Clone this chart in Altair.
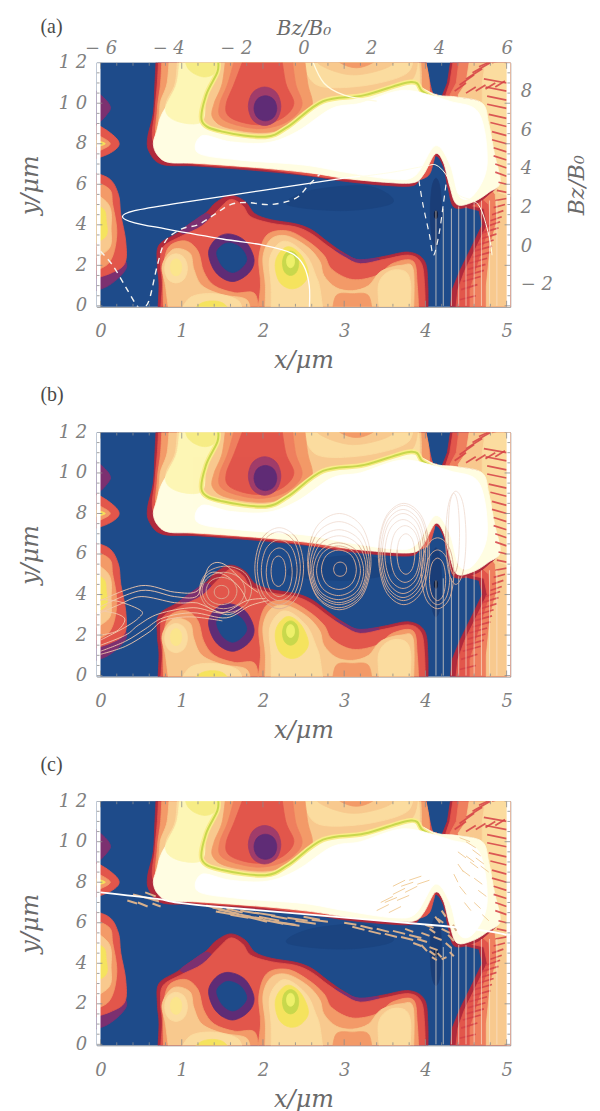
import altair as alt
import pandas as pd

NAVY="#1e4b8a"; DNAVY="#1b4480"; PUR="#5f2c76"; DRED="#b02a3c"; RED="#e2564b"; SAL="#ef7f5e"; ORG="#f39a68"
PEACH="#f8c98e"; LIGHT="#fbdc9f"; YEL="#f5e35e"; GRN="#c8d84c"; PALE="#fffde2"; WHITE="#ffffff"
INK="#808080"; CONT="#dcae96"

XD=[-0.047,5.045]; YD=[-0.05,12.0]
W=415; H=245

def ell(cx,cy,rx,ry):
    k=.72
    return [(cx-rx,cy),(cx-k*rx,cy+k*ry),(cx,cy+ry),(cx+k*rx,cy+k*ry),(cx+rx,cy),(cx+k*rx,cy-k*ry),(cx,cy-ry),(cx-k*rx,cy-k*ry)]

# filled regions, painter's order: (colour, style, points); style 0 straight, 1 smooth with ends off the frame, 2 smooth closed
regions=[
 (NAVY,0,[(-.1,-.3),(5.2,-.3),(5.2,12.3),(-.1,12.3)]),
 (DNAVY,2,[(2.3,5.0),(3,4.7),(3.6,5.1),(3.3,5.9),(2.6,5.7)]),
 # right-hand zone
 (DRED,0,[(4.2,10.3),(4.27,11),(4.32,12.3),(5.2,12.3),(5.2,-.3),(4.3,-.3),(4.33,.8),(4.42,1.7),(4.58,3),(4.7,4),(4.66,4.7),(4.4,4.95),(4.3,6)]),
 (RED,0,[(4.25,10.4),(4.3,11),(4.35,12.3),(5.2,12.3),(5.2,-.3),(4.37,-.3),(4.4,.8),(4.48,1.7),(4.64,3),(4.76,4),(4.72,4.8),(4.4,5.1),(4.35,6)]),
 (SAL,0,[(4.3,10.4),(4.38,11),(4.42,12.3),(5.2,12.3),(5.2,-.3),(4.55,-.3),(4.55,.8),(4.62,1.7),(4.72,3),(4.8,4),(4.78,5),(4.5,6)]),
 (PEACH,0,[(4.4,10.4),(4.5,11),(4.55,12.3),(5.2,12.3),(5.2,-.3),(4.75,-.3),(4.75,1),(4.8,3),(4.88,4.2),(4.86,5.5),(4.6,7)]),
 (LIGHT,0,[(4.7,10),(4.7,11),(4.75,12.3),(5.2,12.3),(5.2,5.2),(4.9,5.6),(4.8,8)]),
 # upper structure
 (DRED,1,[(.69,12.6),(.67,11),(.65,9.5),(.58,8.3),(.6,7.6),(.76,6.98),(1.2,6.9),(2,6.65),(2.6,6.4),(3,6.15),(3.5,5.95),(3.84,5.93),(3.95,6.35),(4.06,6.95),(4.13,7.4),(4.22,6.9),(4.28,5.8),(4.36,4.85),(4.6,5),(4.78,5.5),(4.9,6.1),(4.83,7.5),(4.76,9),(4.68,10),(4.4,10.25),(4.17,10.15),(4.07,10.5),(4.03,11),(4.0,12.6)]),
 (RED,1,[(.72,12.6),(.7,11),(.67,9.6),(.66,8),(1,7.1),(2,6.75),(3,6.25),(3.9,6.2),(4.1,7.1),(4.13,9),(4.15,10.35),(4.08,10.6),(3.98,12.6)]),
 (ORG,1,[(.76,12.6),(.74,11),(.7,9.7),(.7,8),(1,7.2),(2,7),(3,7),(3.9,7),(4.05,10.6),(3.96,12.6)]),
 (PEACH,1,[(.85,12.6),(.82,11),(.73,9.8),(.8,8),(1.5,7.5),(3.9,7.5),(3.95,11),(3.93,12.6)]),
 (LIGHT,1,[(.95,12.6),(.92,11),(.8,9.8),(.9,8),(1.5,7.6),(3.9,7.6),(3.93,11),(3.9,12.6)]),
 (PEACH,1,[(1.44,12.6),(1.44,11.4),(1.3,10.4),(1.25,9.1),(1.5,8.6),(2.03,8.3),(2.31,8.85),(2.74,10.1),(3.25,10.4),(3.82,11.1),(3.9,12.6)]),
 (LIGHT,1,[(2.5,12.6),(2.55,11.4),(2.75,10.8),(3.3,10.9),(3.78,11.5),(3.85,12.6)]),
 (PEACH,1,[(2.62,12.6),(2.7,11.9),(3.1,11.4),(3.55,11.8),(3.7,12.6)]),
 (ORG,1,[(2.8,12.6),(2.95,12),(3.15,11.75),(3.35,12),(3.5,12.6)]),
 (ORG,1,[(1.55,12.6),(1.5,11),(1.4,10),(1.38,9.3),(1.55,8.8),(2.0,8.55),(2.35,8.9),(2.6,9.8),(2.55,11),(2.5,12.6)]),
 (SAL,1,[(1.68,12.6),(1.57,11),(1.47,10),(1.48,9.3),(1.7,8.9),(2.0,8.75),(2.3,9.1),(2.48,9.9),(2.4,11),(2.35,12.6)]),
 (RED,1,[(1.8,12.6),(1.65,11),(1.55,10),(1.57,9.4),(1.75,9.05),(2.0,8.95),(2.25,9.3),(2.38,10),(2.28,11),(2.22,12.6)]),
 ("#a03c6a",2,ell(2.02,9.85,.2,.95)),
 (PUR,2,ell(2.03,9.75,.14,.62)),
 # bright band
 (PALE,1,[(1.0,12.6),(.98,11),(.76,9.5),(.69,8.6),(.65,8),(.7,7.45),(.84,7.08),(1.2,7.03),(2,6.8),(2.6,6.55),(3,6.3),(3.5,6.1),(3.85,6.08),(3.98,6.5),(4.12,7.5),(4.22,7.1),(4.3,5.9),(4.39,5.0),(4.6,5.15),(4.78,5.6),(4.92,6.1),(4.85,7.5),(4.78,9),(4.7,10),(4.4,10.3),(4.15,10.4),(3.96,10.75),(3.82,11.05),(3.25,10.4),(2.74,10.1),(2.31,8.85),(2.03,8.35),(1.5,8.6),(1.25,9.1),(1.3,10.4),(1.44,11.55),(1.44,12.6)]),
 ("#fdf6b5",1,[(.98,12.6),(.94,11),(.8,9.7),(.95,9.1),(1.25,9.1),(1.3,10.4),(1.44,11.55),(1.44,12.6)]),
 ("#f6ec85",1,[(1.02,12.6),(1.08,11.7),(1.27,11.3),(1.43,11.6),(1.45,12.6)]),
 # lower structure
 (DRED,1,[(.7,-.6),(.72,1),(.7,2),(.72,3),(.95,3.6),(1.1,4.05),(1.3,4.6),(1.42,5.1),(1.6,5.45),(1.78,5.15),(1.9,4.55),(2.1,4.25),(2.4,4.05),(2.6,3.75),(2.8,3.15),(3.0,2.6),(3.2,2.25),(3.5,2.45),(3.8,2.65),(3.99,2.2),(4.03,1),(4.03,-.6)]),
 ("#7c3070",2,[(.98,3.65),(1.12,4.1),(1.3,4.55),(1.4,4.2),(1.35,3.7),(1.15,3.5)]),
 ("#7c3070",2,[(2.9,2.75),(3.15,2.3),(3.4,2.35),(3.4,2.2),(3.1,2.1),(2.9,2.5)]),
 (RED,1,[(.73,-.6),(.76,1),(.74,2),(.77,2.9),(1,3.45),(1.25,3.95),(1.45,4.75),(1.6,5.25),(1.75,4.95),(1.85,4.4),(2.1,4.08),(2.4,3.9),(2.6,3.55),(2.8,2.95),(3,2.42),(3.2,2.08),(3.5,2.3),(3.8,2.5),(3.95,2.1),(3.99,1),(4,-.6)]),
 (ORG,1,[(.78,-.6),(.77,1),(.78,2.1),(.85,2.95),(1.05,3.2),(1.2,2.7),(1.27,1.7),(1.4,1),(1.65,.65),(1.9,.6),(1.95,-.6)]),
 (PEACH,1,[(.85,-.6),(.8,1),(.76,2),(.9,2.8),(1.1,2.6),(1.15,1.8),(1.25,1),(1.5,.55),(1.8,.3),(1.85,-.6)]),
 (LIGHT,2,ell(.93,1.85,.14,.72)),
 ("#fbe58c",2,ell(.93,1.9,.07,.42)),
 (LIGHT,1,[(.95,-.6),(1.1,.4),(1.4,.6),(1.7,.25),(1.75,-.6)]),
 (YEL,1,[(1.05,-.6),(1.25,.15),(1.5,.15),(1.65,-.6)]),
 (PUR,2,[(1.33,2.6),(1.42,3.3),(1.58,3.55),(1.78,3.2),(1.89,2.3),(1.82,1.6),(1.62,1.2),(1.42,1.65)]),
 (NAVY,2,[(1.43,2.6),(1.5,3.0),(1.6,3.1),(1.73,2.85),(1.8,2.3),(1.73,1.85),(1.62,1.65),(1.5,1.95)]),
 (ORG,1,[(1.92,-.6),(1.97,1),(1.95,2.4),(2.05,3.5),(2.3,3.7),(2.55,3.2),(2.75,2.5),(2.85,1.8),(3.1,1.3),(3.4,1.5),(3.6,2.1),(3.85,2.2),(3.9,1),(3.92,-.6)]),
 (PEACH,1,[(2.02,-.6),(2.03,1),(2,2.4),(2.1,3.3),(2.3,3.45),(2.55,2.9),(2.7,2.2),(2.75,1.5),(2.9,.9),(3.1,.75),(3.3,1),(3.45,1.7),(3.7,2),(3.85,1.8),(3.85,-.6)]),
 (LIGHT,1,[(2.1,-.6),(2.1,1),(2.08,2.3),(2.2,3.1),(2.35,3.1),(2.55,2.4),(2.65,1.5),(2.7,.9),(2.75,-.6)]),
 (LIGHT,1,[(3.45,-.6),(3.42,1),(3.55,1.7),(3.75,1.7),(3.82,1),(3.8,-.6)]),
 (ORG,1,[(2.85,-.6),(2.9,.5),(3.1,.6),(3.3,.5),(3.35,-.6)]),
 (YEL,2,[(2.15,2.0),(2.2,2.6),(2.32,2.92),(2.47,2.5),(2.56,1.6),(2.47,1.0),(2.33,.85),(2.2,1.2)]),
 (GRN,2,ell(2.34,2.1,.1,.6)),
 ("#eef06a",2,ell(2.34,2.2,.05,.32)),
 # left strip
 ("#7c3070",1,[(-.2,.6),(.1,1),(.32,1.9),(.2,2.6),(-.2,3)]),
 (RED,1,[(-.2,1.2),(.12,1.6),(.3,2.1),(.31,3.2),(.25,4.5),(.22,5.5),(.1,6.3),(-.2,6.7)]),
 (ORG,1,[(-.2,1.6),(.1,2.1),(.2,3.5),(.15,5),(.1,5.8),(-.2,6.3)]),
 (PEACH,1,[(-.2,2.1),(.1,2.8),(.13,3.8),(.1,5),(-.2,5.9)]),
 (YEL,1,[(-.2,2.9),(.06,3.4),(.07,4.2),(.03,4.8),(-.2,5.2)]),
 ("#7c3070",1,[(-.2,8.4),(.07,9.4),(.1,10),(-.2,11.1)]),
 (RED,1,[(-.2,7.1),(.1,7.5),(.23,8),(.1,8.6),(-.2,9.3)]),
 (ORG,1,[(-.2,7.4),(.12,8),(-.2,8.7)]),
 (YEL,1,[(-.2,7.75),(.06,8),(-.2,8.3)]),
 # navy spike core
 ("#1a3d77",2,ell(4.13,4.6,.07,1.7)),
 ("#0d1a3a",2,ell(4.13,4.5,.02,.2)),
]
# bright core, drawn after the green contour
core=[(1.2,7.55),(1.7,7.2),(2.5,6.95),(3,6.6),(3.6,6.25),(3.88,6.45),(4.12,7.9),(4.3,7),(4.42,5.4),(4.6,5.5),(4.76,7),(4.66,9.5),(4.3,10.1),(3.85,10.6),(3.6,10.55),(3.2,10.0),(2.85,9.75),(2.42,8.6),(2.05,8.05),(1.6,8.1),(1.25,8.4)]
green_x=[1.44,1.44,1.3,1.25,1.5,2.03,2.31,2.74,3.25,3.82,3.96,4.1]
green_y=[12.2,11.55,10.4,9.1,8.6,8.35,8.85,10.1,10.4,11.05,10.6,10.25]

vline_x=[4.13,4.22,4.32,4.41,4.5,4.6,4.69,4.79,4.88]
vline_top=[4.7,4.8,4.8,4.9,4.9,5.2,5.2,5.2,5.2]

# ripple strokes on the right-hand edge
sx0=[4.36,4.42,4.5,4.58,4.66,4.74,4.82,4.5,4.62,4.74,4.86,
     4.72,4.74,4.76,4.76,4.78,4.8,4.82,4.82,4.84,4.84,4.86,4.86,
     4.9,4.88,4.86,4.84,4.82,4.8,4.74,4.7,4.68,4.64,4.6,4.58,4.54,4.52,4.5,4.46,4.44,4.42]
sy0=[10.6,10.9,11.2,11.5,11.8,12.0,12.0,10.5,10.6,10.7,10.8,
     11.2,10.8,10.35,9.95,9.45,9.05,8.6,8.2,7.8,7.4,7.0,6.6,
     6.1,5.7,5.2,4.85,4.5,4.2,3.9,3.6,3.3,3.0,2.7,2.4,2.1,1.8,1.5,1.2,.8,.3]
sx1=[4.5,4.6,4.7,4.8,4.88,4.95,5.0,4.62,4.74,4.86,4.98,
     5.0,5.0,5.0,5.0,5.0,5.0,5.0,5.0,5.0,5.0,5.0,5.0,
     5.0,5.0,5.0,4.98,4.96,4.94,4.92,4.9,4.88,4.84,4.82,4.8,4.76,4.74,4.72,4.68,4.64,4.62]
sy1=[11.0,11.4,11.7,12.0,12.2,12.2,12.2,10.8,10.9,11.0,11.1,
     11.0,10.6,10.15,9.75,9.25,8.85,8.4,8.0,7.6,7.2,6.8,6.4,
     6.0,5.6,5.3,5.0,4.7,4.4,4.15,3.85,3.55,3.25,2.95,2.65,2.35,2.05,1.75,1.45,1.05,.5]

# panel (a) curves
solid_x=[2.57,2.57,2.5,2.35,2,1.5,.8,.42,.27,.42,1,2,3,3.2]
solid_y=[-.2,1,2,2.6,3,3.3,3.8,4.1,4.4,4.7,5.1,5.7,6.3,6.38]
solid2_x=[2.6,2.75,3.0,3.4]
solid2_y=[12.2,11,10.4,10.1]
solid3_x=[3.2,3.6,4.0,4.13,4.25,4.4,4.65,4.78,4.82]
solid3_y=[6.38,6.6,6.9,6.95,6.5,5.5,5,3.5,2.5]
dash_x=[0,.15,.3,.45,.52,.6,.7,.8,1.0,1.2,1.4,1.6,1.8,2.1,2.4,2.55,2.7]
dash_y=[2.7,2,1,0,-.1,.3,2,3.2,3.8,4,4.5,5,5.1,5,5.3,5.9,6.5]
lens_x=[3.92,3.97,4.05,4.1,4.17,4.22,4.26]
lens_y=[6.2,5,3.5,2.5,3.6,5,6.2]

# panel (b) closed contours: (x left, x right, y low, y high)
rings=[
 (1.40,1.58,3.8,4.45),(1.3,1.68,3.5,4.85),(1.25,1.78,3.3,5.1),(1.22,1.86,3.1,5.4),
 (2.1,2.28,4.4,5.9),(2.04,2.36,3.9,6.3),(1.98,2.42,3.7,6.7),(1.93,2.46,3.5,7.1),(1.9,2.5,3.3,7.3),
 (2.87,3.03,4.9,5.6),(2.72,3.15,4.25,6.2),(2.66,3.2,3.95,6.4),(2.62,3.24,3.75,6.55),(2.6,3.27,3.6,6.9),
 (2.58,3.29,3.5,7.2),(2.56,3.31,3.35,7.6),(2.55,3.33,3.25,8.0),
 (3.65,3.87,5,7.0),(3.57,3.93,4.6,7.4),(3.5,3.95,4.3,7.7),(3.47,3.98,4.05,8.0),(3.45,4.0,3.85,8.2),(3.43,4.03,3.7,8.4),(3.42,4.05,3.5,8.5),
 (3.95,4.35,3.3,6.8),(4.0,4.3,3.5,6.2),(4.05,4.25,3.7,5.8),
 (4.25,4.5,4.5,9.1),(4.28,4.42,5,9.0),
]
flow=[
 [(0,3.7),(.5,4.44),(.91,4.12),(1.2,4.2),(1.34,5.4),(1.52,5.5),(1.77,4.6),(1.94,4.1)],
 [(0,3.4),(.5,4.2),(.91,3.9),(1.18,3.9),(1.26,4.7),(1.38,5.1),(1.56,4.9),(1.72,4.3),(1.8,3.7)],
 [(0,3.1),(.23,3.5),(.5,3.9),(.91,3.6),(1.15,3.6),(1.25,3.5),(1.56,3.0),(1.75,3.4)],
 [(0,2.0),(.2,2.2),(.3,2.75),(.2,3.05),(0,3.2)],
 [(.0,3.75),(.23,3.65),(.5,3.2),(.47,2.85),(.31,2.4),(0,1.75)],
 [(0,1.5),(.31,2),(.47,2.5),(.72,3.05),(1.14,3.35),(1.5,3.1),(1.8,3.7),(2.03,3.8)],
 [(0,1.2),(.31,1.7),(.55,2.3),(.77,2.85),(1.14,3.1),(1.55,2.85),(1.84,3.45),(2.07,3.7)],
 [(0,1.05),(.31,1.45),(.6,2.15),(.77,2.7),(1.1,2.9),(1.5,2.7)],
]

# panel (c) interface and filament streaks
iface_x=[0,.7,1.27,4.22,5]
iface_y=[7.5,7.18,6.85,5.84,5.4]
cx0=[.33,.4,.46,.55,.6,.64,1.3,1.38,1.45,1.55,1.6,1.72,1.8,1.9,2.0,2.1,2.2,2.3,2.4,2.5,2.6,1.42,1.6,1.75,1.95,2.15,
     3.0,3.1,3.2,3.3,3.4,3.5,3.6,3.7,3.8,3.9,3.75,3.85,3.95,4.0,4.05,4.1,4.15,4.2,3.95,4.05,4.15,4.25,4.05,4.12,4.2,4.28,4.08,4.2,4.3,4.34]
cy0=[7.1,7.4,7.0,7.5,7.2,6.95,6.85,6.75,6.65,6.7,6.5,6.6,6.3,6.5,6.15,6.35,6.0,6.25,6.1,6.3,6.15,6.55,6.4,6.35,6.3,6.05,
     6.0,5.8,5.85,5.6,5.7,5.45,5.6,5.3,5.4,5.2,5.7,5.0,5.5,5.9,4.8,5.3,6.2,5.7,4.9,4.6,4.5,5.0,5.7,6.3,6.6,5.4,4.3,4.2,4.55,5.9]
cx1=[.45,.6,.58,.68,.72,.74,1.5,1.6,1.7,1.75,1.85,1.95,2.05,2.15,2.25,2.3,2.45,2.55,2.65,2.7,2.8,1.65,1.82,2.0,2.2,2.4,
     3.15,3.25,3.35,3.45,3.55,3.65,3.75,3.85,3.95,4.02,3.85,3.95,4.05,4.1,4.15,4.2,4.22,4.3,4.02,4.12,4.2,4.32,4.12,4.18,4.25,4.35,4.14,4.26,4.35,4.38]
cy1=[6.95,7.2,6.8,7.3,7.05,6.8,6.65,6.55,6.45,6.5,6.3,6.45,6.05,6.35,5.95,6.2,5.85,6.1,5.95,6.15,6.05,6.4,6.25,6.2,6.1,5.9,
     5.9,5.65,5.7,5.45,5.55,5.3,5.45,5.15,5.25,5.05,5.55,4.85,5.35,5.75,4.65,5.15,6.0,5.5,4.6,4.4,4.3,4.75,5.5,6.0,6.3,5.1,4.15,4.3,4.35,5.6]
fx0=[3.4,3.5,3.6,3.7,3.8,3.55,3.65,3.75,3.9,3.45,3.6,4.42,4.5,4.58,4.62,4.68,4.45,4.55,4.6,4.65,4.4,4.5,4.42,4.48,4.35,4.4,4.6,4.7]
fy0=[6.6,7.0,7.4,7.8,8.1,6.5,7.1,7.5,7.9,7.0,7.8,10.2,10,9.6,9.2,8.8,8.6,9.0,8.2,7.6,9.5,9.3,7.8,7.0,8.4,8.9,7.0,6.4]
fx1=[3.55,3.65,3.75,3.85,3.95,3.7,3.8,3.9,4.05,3.6,3.75,4.55,4.62,4.68,4.72,4.78,4.55,4.65,4.7,4.75,4.5,4.6,4.5,4.56,4.4,4.47,4.68,4.78]
fy1=[6.9,7.25,7.7,8.0,8.3,6.8,7.35,7.8,8.1,7.3,8.1,10.0,9.7,9.3,8.9,8.5,8.3,8.7,7.9,7.3,9.2,9.0,7.4,6.6,8.0,8.5,6.7,6.1]

major_x=[0,1,2,3,4,5]
minor_x=[.2,.4,.6,.8,1.2,1.4,1.6,1.8,2.2,2.4,2.6,2.8,3.2,3.4,3.6,3.8,4.2,4.4,4.6,4.8]
major_y=[0,2,4,6,8,10,12]
minor_y=[.5,1,1.5,2.5,3,3.5,4.5,5,5.5,6.5,7,7.5,8.5,9,9.5,10.5,11,11.5]
# secondary Bz/B0 axes of panel (a): positions on the x and y scales and their labels
top_pos=[0,.8333,1.6667,2.5,3.3333,4.1667,5]
top_lab=["− 6","− 4","− 2","0","2","4","6"]
right_pos=[1.03,2.94,4.85,6.76,8.67,10.58]
right_lab=["− 2","0","2","4","6","8"]

sx=alt.Scale(domain=XD,nice=False,zero=False)
sy=alt.Scale(domain=YD,nice=False,zero=False)
FONT="Liberation Serif"; AF="DejaVu Serif"

def xq(f="x"): return alt.X(f"{f}:Q",scale=sx,axis=None)
def yq(f="y"): return alt.Y(f"{f}:Q",scale=sy,axis=None)

INTERP={0:"linear",1:"cardinal",2:"cardinal-closed"}
def area(c,style,pts,op=1):
    df=pd.DataFrame({"x":[p[0] for p in pts],"y":[p[1] for p in pts],"i":range(len(pts))})
    return alt.Chart(df).mark_line(fill=c,stroke=c,strokeWidth=.8,clip=True,opacity=op,
        interpolate=INTERP[style]).encode(x=xq(),y=yq(),order="i:Q")

def curve(xs,ys,c=WHITE,w=1.3,dash=None,closed=False):
    df=pd.DataFrame({"x":xs,"y":ys,"i":range(len(xs))})
    kw=dict(stroke=c,strokeWidth=w,clip=True,interpolate="cardinal-closed" if closed else "cardinal")
    if dash: kw["strokeDash"]=dash
    return alt.Chart(df).mark_line(**kw).encode(x=xq(),y=yq(),order="i:Q")

def segs(a,b,c,d,col,w,op=1):
    df=pd.DataFrame({"x":a,"y":b,"x2":c,"y2":d})
    return alt.Chart(df).mark_rule(stroke=col,strokeWidth=w,opacity=op,clip=True).encode(
        x=xq(),y=yq(),x2="x2:Q",y2="y2:Q")

def ticks():
    out=[]
    GR="#8c8c8c"
    for vals,ly in ((major_x,.3),(minor_x,.15)):
        n=len(vals)
        out.append(segs(vals,[YD[0]]*n,vals,[YD[0]+ly]*n,GR,.8))
        out.append(segs(vals,[YD[1]]*n,vals,[YD[1]-ly]*n,GR,.8))
    for vals,lx in ((major_y,.07),(minor_y,.035)):
        n=len(vals)
        out.append(segs([XD[0]]*n,vals,[XD[0]+lx]*n,vals,GR,.8))
        out.append(segs([XD[1]]*n,vals,[XD[1]-lx]*n,vals,GR,.8))
    return out

TXT=dict(titleFont=AF,titleFontStyle="italic",titleFontWeight="normal",titleColor="#6a6a6a",
         labelFont=AF,labelFontStyle="italic",labelFontSize=18,labelColor=INK,
         grid=False,ticks=False,domain=False)

def axes_layer():
    ax=alt.Chart(pd.DataFrame({"x":major_x,"y":[0]*len(major_x)})).mark_point(opacity=0).encode(
        x=alt.X("x:Q",scale=sx,title="x/μm",axis=alt.Axis(values=major_x,labelPadding=16,labelAngle=0,
            titleFontSize=24,titlePadding=8,format="d",**TXT)),y=yq())
    ay=alt.Chart(pd.DataFrame({"y":major_y,"x":[0]*len(major_y)})).mark_point(opacity=0).encode(
        y=alt.Y("y:Q",scale=sy,title="y/μm",axis=alt.Axis(values=major_y,labelPadding=10,
            labelExpr="datum.value==12?'1 2':datum.value==10?'1 0':datum.label",
            titleFontSize=24,titlePadding=16,**TXT)),x=xq())
    return [ax,ay]

def base():
    L=[area(*r) for r in regions]
    L.append(curve(green_x,green_y,"#f9ec8a",5))
    L.append(curve(green_x,green_y,GRN,2))
    L.append(area(WHITE,2,core))
    L.append(segs(sx0,sy0,sx1,sy1,"#d53f45",1.7,.85))
    L.append(segs(vline_x,[0]*len(vline_x),vline_x,vline_top,"#f7e6d0",.8,.85))
    for a,b in ((XD[0],0),(5,XD[1])):
        L.append(alt.Chart(pd.DataFrame({"x":[a],"x2":[b],"y":[YD[0]],"y2":[YD[1]]})).mark_rect(fill=WHITE).encode(
            x=xq(),x2="x2:Q",y=yq(),y2="y2:Q"))
    return L

def tag(t,y):
    return alt.Chart(pd.DataFrame({"t":[t],"x":[-.74],"y":[y]})).mark_text(font=FONT,fontSize=20,color="#4a4a4a",align="left",baseline="middle").encode(
        text="t:N",x=xq(),y=yq())

# panel a
la=base()
la+=[curve(solid_x,solid_y),curve(solid2_x,solid2_y,"#fffbe0"),curve(solid3_x,solid3_y,"#fffde8",1.0),
     curve(dash_x,dash_y,"#f3f3f0",1.4,[6,5]),curve(lens_x,lens_y,"#f3f3f0",1.2,[6,5])]
la+=ticks()+[tag("(a)",13.75)]+axes_layer()
top_map="{"+",".join(f"'{p}':'{l}'" for p,l in zip(top_pos,top_lab))+"}"
right_map="{"+",".join(f"'{p}':'{l}'" for p,l in zip(right_pos,right_lab))+"}"
top=alt.Chart(pd.DataFrame({"x":top_pos,"y":[0]*len(top_pos)})).mark_point(opacity=0).encode(
    x=alt.X("x:Q",scale=sx,title="Bz/B₀",axis=alt.Axis(orient="top",values=top_pos,labelPadding=5,labelAngle=0,
        labelExpr=f"{top_map}[''+datum.value]",titleFontSize=20,titlePadding=1,**TXT)),y=yq())
right=alt.Chart(pd.DataFrame({"y":right_pos,"x":[0]*len(right_pos)})).mark_point(opacity=0).encode(
    y=alt.Y("y:Q",scale=sy,title="Bz/B₀",axis=alt.Axis(orient="right",values=right_pos,labelPadding=10,titleAngle=270,
        labelExpr=f"{right_map}[''+datum.value]",titleFontSize=22,titlePadding=36,**TXT)),x=xq())
pa=alt.layer(*la,top,right).resolve_axis(x="independent",y="independent").properties(width=W,height=H)

# panel b
lb=base()
for (x0,x1,y0,y1) in rings:
    lb.append(curve(*zip(*ell((x0+x1)/2,(y0+y1)/2,(x1-x0)/2,(y1-y0)/2)),CONT,.9,closed=True))
for f in flow:
    lb.append(curve([p[0] for p in f],[p[1] for p in f],"#f3c9ac",.9))
lb.append(area(WHITE,2,core,.6))
lb+=ticks()+[tag("(b)",13.85)]+axes_layer()
pb=alt.layer(*lb).resolve_axis(x="independent",y="independent").properties(width=W,height=H)

# panel c
lc=base()
lc+=[segs(cx0,cy0,cx1,cy1,"#d8b08c",2),segs(fx0,fy0,fx1,fy1,"#f1cf9e",1.0),
     curve(iface_x,iface_y,WHITE,1.8)]
lc+=ticks()+[tag("(c)",13.8)]+axes_layer()
pc=alt.layer(*lc).resolve_axis(x="independent",y="independent").properties(width=W,height=H)

chart=alt.vconcat(pa,pb,pc,spacing=10).properties(padding={"left":9,"top":6,"right":4,"bottom":0},background="white").configure_view(stroke="#9a9a9a")
chart.save("out.html",embed_options={"renderer":"svg","actions":False})
